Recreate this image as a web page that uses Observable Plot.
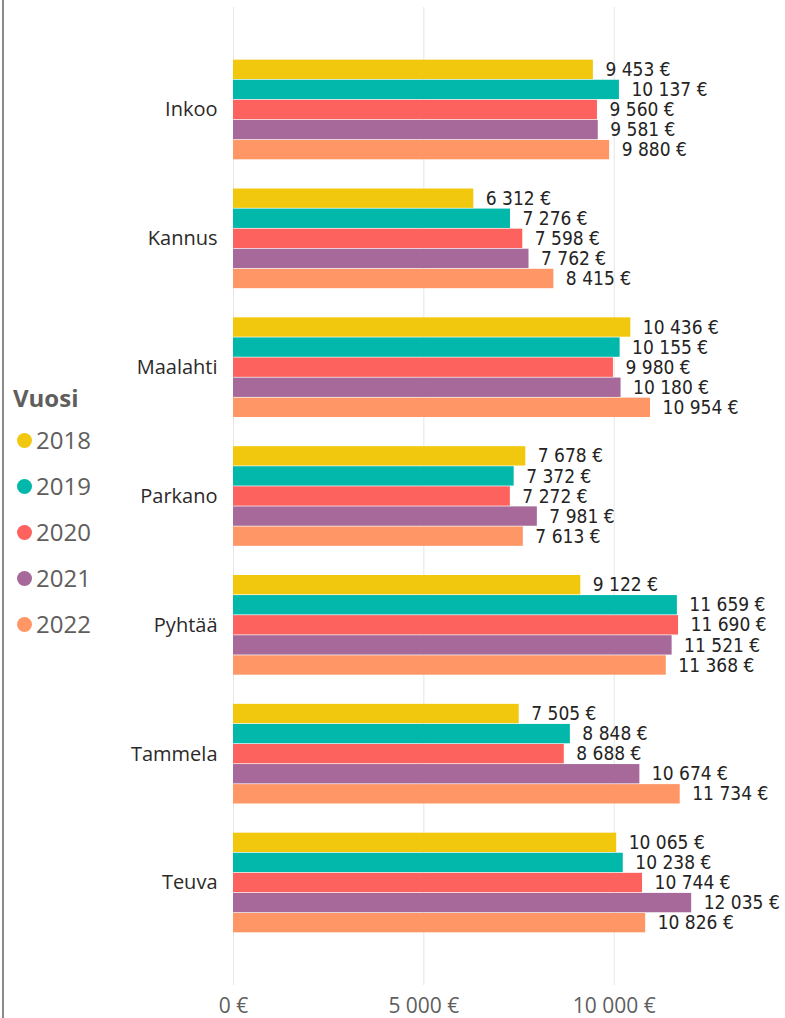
<!DOCTYPE html>
<html>
<head>
<meta charset="utf-8">
<script src="https://cdn.jsdelivr.net/npm/d3@7"></script>
<script src="https://cdn.jsdelivr.net/npm/@observablehq/plot@0.6"></script>
<style>
  body { margin: 0; background: #fff; }
  #wrap { position: relative; width: 785px; height: 1018px; overflow: hidden; }
  #border { position: absolute; left: 2px; top: 0; width: 2px; height: 1018px; background: #8a8a8a; }
  #chart { position: absolute; left: 0; top: 0; }
  #legend { position: absolute; left: 13px; top: 384px; font-family: "Open Sans", "Noto Sans", sans-serif; color: #605E5C; }
  #legend .title { font-weight: bold; font-size: 24px; line-height: 28px; height: 28px; }
  #legend .items { margin-top: 5px; }
  #legend .item { height: 46px; line-height: 46px; font-size: 24px; white-space: nowrap; display: flex; align-items: center; }
  #legend .dot { width: 15px; height: 15px; border-radius: 50%; display: inline-block; margin-right: 4px; margin-left: 4px; }
</style>
</head>
<body>
<div id="wrap">
  <div id="chart"></div>
  <div id="border"></div>
  <div id="legend"></div>
</div>
<script>
const legendTitle = "Vuosi";
const municipalities = ["Inkoo", "Kannus", "Maalahti", "Parkano", "Pyhtää", "Tammela", "Teuva"];
const years = ["2018", "2019", "2020", "2021", "2022"];
const colors = ["#F2C80F", "#01B8AA", "#FD625E", "#A66999", "#FE9666"];
const v2018 = [9453, 6312, 10436, 7678, 9122, 7505, 10065];
const v2019 = [10137, 7276, 10155, 7372, 11659, 8848, 10238];
const v2020 = [9560, 7598, 9980, 7272, 11690, 8688, 10744];
const v2021 = [9581, 7762, 10180, 7981, 11521, 10674, 12035];
const v2022 = [9880, 8415, 10954, 7613, 11368, 11734, 10826];
const series = [v2018, v2019, v2020, v2021, v2022];
const xTicks = [0, 5000, 10000];

const data = years.flatMap((yr, i) =>
  series[i].map((v, j) => ({ muni: municipalities[j], year: yr, value: v })));

const euro = v => d3.format(",")(v).replace(/,/g, "\u00a0") + "\u00a0€";

const W = 785, H = 1018, mt = 7, mb = 33;
const pInner = 0.221, pOuter = 0.406;
const step = (H - mt - mb) / (municipalities.length - pInner + 2 * pOuter);
const bw = step * (1 - pInner);
const sub = bw / years.length;
const gap = 0.35;

const marks = [
  Plot.gridX(xTicks, { stroke: "#e6e6e6", strokeOpacity: 1, strokeWidth: 1 }),
  ...years.map((yr, i) => Plot.barX(data.filter(d => d.year === yr), {
    x: "value", y: "muni", fill: "year",
    insetTop: i * sub + gap, insetBottom: (years.length - 1 - i) * sub + gap
  })),
  ...years.map((yr, i) => Plot.text(data.filter(d => d.year === yr), {
    x: "value", y: "muni", text: d => euro(d.value),
    dx: 12, dy: (i - (years.length - 1) / 2) * sub,
    textAnchor: "start", fill: "#252423",
    fontFamily: "'DejaVu Sans Condensed', 'DejaVu Sans', sans-serif", fontSize: 19
  })),
  Plot.axisX(xTicks, {
    tickSize: 0, tickPadding: 13, tickFormat: euro,
    fontSize: 21, fill: "#605E5C", fontFamily: "'Open Sans', sans-serif", label: null
  }),
  Plot.axisY({
    tickSize: 0, tickPadding: 16, fontSize: 20, fill: "#2b2a29",
    fontFamily: "'Open Sans', sans-serif", label: null
  })
];

const chart = Plot.plot({
  width: W, height: H,
  marginTop: mt, marginBottom: mb, marginLeft: 233, marginRight: 19,
  style: { background: "transparent", overflow: "visible" },
  x: { domain: [0, 14000], axis: null },
  y: { domain: municipalities, paddingInner: pInner, paddingOuter: pOuter, round: false, axis: null },
  color: { domain: years, range: colors },
  marks
});
document.getElementById("chart").appendChild(chart);

const legend = document.getElementById("legend");
const t = document.createElement("div");
t.className = "title"; t.textContent = legendTitle;
legend.appendChild(t);
const items = document.createElement("div");
items.className = "items";
years.forEach((yr, i) => {
  const it = document.createElement("div");
  it.className = "item";
  const dot = document.createElement("span");
  dot.className = "dot"; dot.style.background = colors[i];
  it.appendChild(dot);
  it.appendChild(document.createTextNode(yr));
  items.appendChild(it);
});
legend.appendChild(items);
</script>
</body>
</html>
